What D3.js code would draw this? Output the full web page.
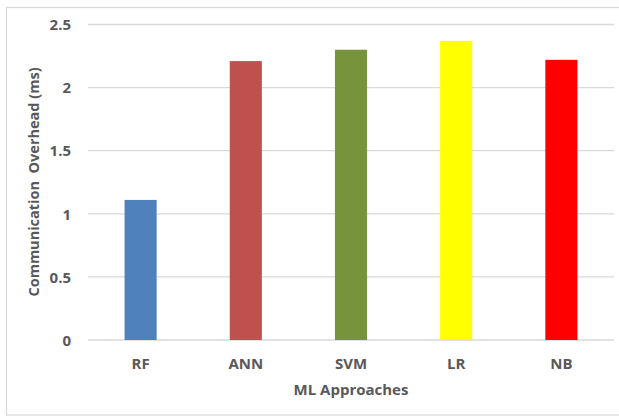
<!DOCTYPE html>
<html>
<head>
<meta charset="utf-8">
<script src="https://cdn.jsdelivr.net/npm/d3@7"></script>
<style>
  html, body { margin: 0; padding: 0; background: #fff; }
  svg { display: block; }
  text { font-family: "Open Sans", sans-serif; font-weight: 700; fill: #595959; }
</style>
</head>
<body>
<svg id="chart" width="619" height="416"></svg>
<script>
const categories = ["RF", "ANN", "SVM", "LR", "NB"];
const values = [1.11, 2.21, 2.30, 2.37, 2.22];
const colors = ["#4F81BD", "#C0504D", "#77933C", "#FFFF00", "#FF0000"];
const yTicks = [0, 0.5, 1, 1.5, 2, 2.5];
const xTitle = "ML Approaches";
const yTitle = "Communication  Overhead (ms)";

const svg = d3.select("#chart");
const W = 619, H = 416;
const plot = { left: 88, right: 614, top: 24.5, bottom: 340 };

// outer border
svg.append("rect").attr("x", 6.5).attr("y", 7.5).attr("width", W).attr("height", 407.5)
  .attr("fill", "#fff").attr("stroke", "#d9d9d9").attr("stroke-width", 1.3);

const x = d3.scaleBand().domain(categories).range([plot.left, plot.right]).paddingInner(0.695).paddingOuter(0.3475);
const y = d3.scaleLinear().domain([0, 2.5]).range([plot.bottom, plot.top]);

// gridlines
svg.append("g").selectAll("line").data(yTicks).join("line")
  .attr("x1", plot.left).attr("x2", plot.right)
  .attr("y1", d => y(d)).attr("y2", d => y(d))
  .attr("stroke", "#d9d9d9").attr("stroke-width", 1.3);

// y axis labels
const yAxis = d3.axisLeft(y).tickValues(yTicks).tickSize(0).tickPadding(0).tickFormat(d3.format("~g"));
const gy = svg.append("g").attr("transform", `translate(71,0)`).call(yAxis);
gy.select(".domain").remove();
gy.selectAll("text").style("font-size", "15px").attr("fill", "#595959")
  .style("font-family", "'Open Sans', sans-serif").style("font-weight", "700").attr("dy", "0.35em");

// bars
svg.append("g").selectAll("rect").data(categories).join("rect")
  .attr("x", d => x(d)).attr("width", x.bandwidth())
  .attr("y", (d, i) => y(values[i]))
  .attr("height", (d, i) => y(0) - y(values[i]))
  .attr("fill", (d, i) => colors[i]);

// x axis labels
const xAxis = d3.axisBottom(x).tickSize(0).tickPadding(0);
const gx = svg.append("g").attr("transform", `translate(0,364)`).call(xAxis);
gx.select(".domain").remove();
gx.selectAll("text").style("font-size", "15px").attr("fill", "#595959")
  .style("font-family", "'Open Sans', sans-serif").style("font-weight", "700").attr("dy", "0.35em");

// axis titles
svg.append("text").attr("x", (plot.left + plot.right) / 2).attr("y", 390).attr("dy", "0.35em")
  .attr("text-anchor", "middle").style("font-size", "15px").text(xTitle);
svg.append("text").attr("transform", `translate(34,182) rotate(-90)`)
  .attr("dy", "0.35em").attr("text-anchor", "middle").style("font-size", "14.5px")
  .style("white-space", "pre").text(yTitle);
</script>
</body>
</html>
